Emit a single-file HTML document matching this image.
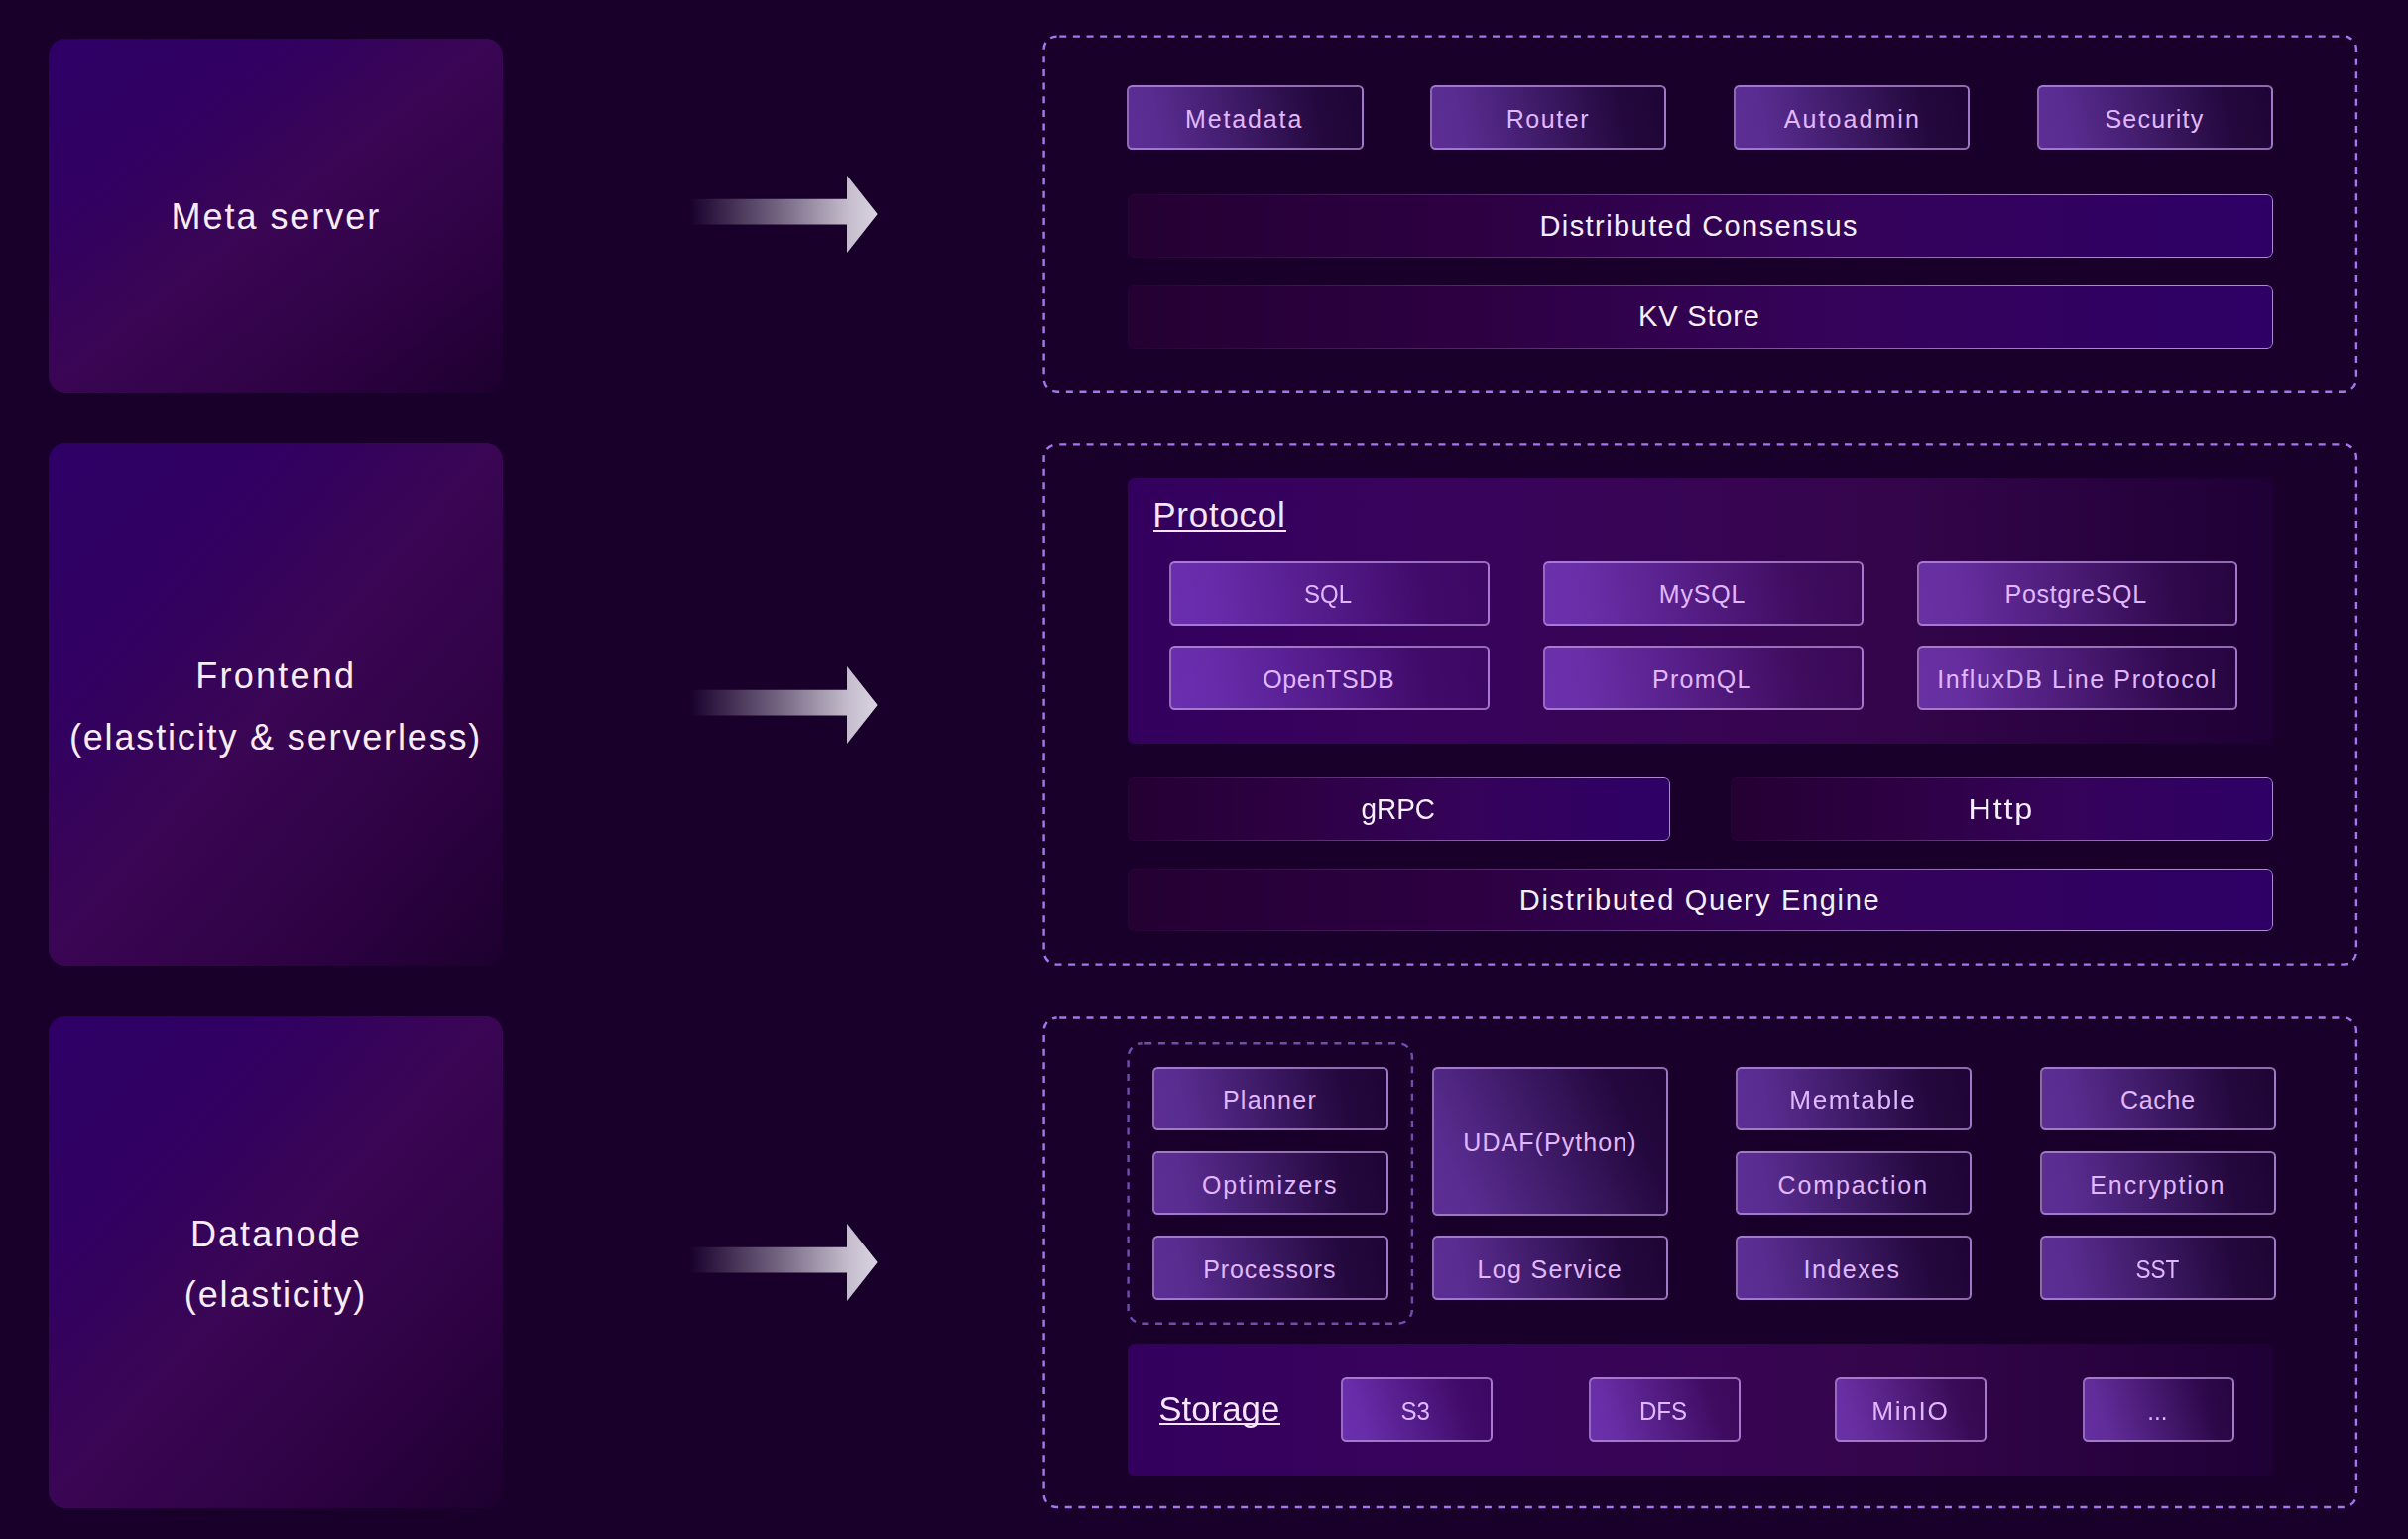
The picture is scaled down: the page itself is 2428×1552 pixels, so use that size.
<!DOCTYPE html>
<html><head><meta charset="utf-8"><title>Architecture</title>
<style>
*{box-sizing:border-box;margin:0;padding:0}
html,body{width:2428px;height:1552px;overflow:hidden;background:#18002b}
body{position:relative;font-family:"Liberation Sans",sans-serif;}
.big{position:absolute;border-radius:17px;background:linear-gradient(to bottom right,#2e0066 0%,#310062 25%,#3a0654 50%,#2f0244 75%,#1d002f 100%);color:#f8ecf9;font-size:36px;white-space:nowrap}
.big>span{position:absolute;left:0;width:100%;text-align:center;line-height:1}
.btn{position:absolute;border:2px solid rgba(200,160,230,.66);border-radius:5.5px;background:linear-gradient(66deg,rgba(160,92,255,.5) 0%,rgba(160,92,255,.07) 100%);display:flex;align-items:center;justify-content:center;color:#e0b8ff;font-size:25px;white-space:nowrap;padding-top:3.4px}
.bar{position:absolute;border-radius:6px;display:flex;align-items:center;justify-content:center;color:#f6eefa;font-size:29px;white-space:nowrap;padding-top:1px}
.bar::before{content:"";position:absolute;inset:0;border-radius:6px;background:linear-gradient(90deg,#250033 0%,#2d0042 30%,#35035a 62%,#2e0066 100%);}
.bar::after{content:"";position:absolute;inset:0;border-radius:6px;border:1.7px solid rgba(196,160,225,.85);-webkit-mask-image:linear-gradient(90deg,rgba(0,0,0,.02) 0%,rgba(0,0,0,.38) 40%,#000 85%);mask-image:linear-gradient(90deg,rgba(0,0,0,.02) 0%,rgba(0,0,0,.38) 40%,#000 85%)}
.bar span{position:relative;z-index:1}
.group{position:absolute;border-radius:7px;background:linear-gradient(90deg,#34005f 0%,#38045a 35%,#35054c 65%,#1f0035 100%)}
.hdr{position:absolute;color:#f6e6fb;font-size:35px;white-space:nowrap;line-height:1}
.hdr u{position:absolute;height:2.4px;background:#f6e6fb}
svg.arrow{position:absolute}
</style></head><body>

<div class="big" style="left:49px;top:39px;width:458px;height:357px"><span style="top:162.4px"><span style="letter-spacing:1.97px;margin-right:-1.97px;position:relative;left:-0.61px;">Meta server</span></span></div>
<div class="big" style="left:49px;top:447px;width:458px;height:527px"><span style="top:217.0px"><span style="letter-spacing:2.26px;margin-right:-2.26px;position:relative;left:-0.84px;">Frontend</span></span><span style="top:278.6px"><span style="letter-spacing:1.85px;margin-right:-1.85px;position:relative;left:-0.86px;">(elasticity &amp; serverless)</span></span></div>
<div class="big" style="left:49px;top:1025px;width:458px;height:496px"><span style="top:201.9px"><span style="letter-spacing:2.1px;margin-right:-2.1px;position:relative;left:-0.69px;">Datanode</span></span><span style="top:262.6px"><span style="letter-spacing:1.86px;margin-right:-1.86px;position:relative;left:-0.96px;">(elasticity)</span></span></div>
<svg class="arrow" style="left:690px;top:170.5px" width="200" height="90" viewBox="0 0 200 90"><defs><linearGradient id="ag1" x1="0" y1="0" x2="1" y2="0"><stop offset="0" stop-color="#d9d3e0" stop-opacity="0"/><stop offset="0.12" stop-color="#d9d3e0" stop-opacity="0.12"/><stop offset="0.5" stop-color="#d9d3e0" stop-opacity="0.5"/><stop offset="0.85" stop-color="#d9d3e0" stop-opacity="0.9"/><stop offset="1" stop-color="#dad4e1" stop-opacity="1"/></linearGradient></defs><path d="M5 29.8 H164 V6.1 L194.7 45 L164 84.1 V55.4 H5 Z" fill="url(#ag1)"/></svg>
<svg class="arrow" style="left:690px;top:665.5px" width="200" height="90" viewBox="0 0 200 90"><defs><linearGradient id="ag2" x1="0" y1="0" x2="1" y2="0"><stop offset="0" stop-color="#d9d3e0" stop-opacity="0"/><stop offset="0.12" stop-color="#d9d3e0" stop-opacity="0.12"/><stop offset="0.5" stop-color="#d9d3e0" stop-opacity="0.5"/><stop offset="0.85" stop-color="#d9d3e0" stop-opacity="0.9"/><stop offset="1" stop-color="#dad4e1" stop-opacity="1"/></linearGradient></defs><path d="M5 29.8 H164 V6.1 L194.7 45 L164 84.1 V55.4 H5 Z" fill="url(#ag2)"/></svg>
<svg class="arrow" style="left:690px;top:1228.4px" width="200" height="90" viewBox="0 0 200 90"><defs><linearGradient id="ag3" x1="0" y1="0" x2="1" y2="0"><stop offset="0" stop-color="#d9d3e0" stop-opacity="0"/><stop offset="0.12" stop-color="#d9d3e0" stop-opacity="0.12"/><stop offset="0.5" stop-color="#d9d3e0" stop-opacity="0.5"/><stop offset="0.85" stop-color="#d9d3e0" stop-opacity="0.9"/><stop offset="1" stop-color="#dad4e1" stop-opacity="1"/></linearGradient></defs><path d="M5 29.8 H164 V6.1 L194.7 45 L164 84.1 V55.4 H5 Z" fill="url(#ag3)"/></svg>
<svg style="position:absolute;left:0;top:0" width="2428" height="1552" viewBox="0 0 2428 1552">
<rect x="1052.6" y="36.6" width="1323.3" height="358.1" rx="13" ry="13" fill="none" stroke="#a776ee" stroke-width="2.4" stroke-dasharray="7 6.65" stroke-dashoffset="11"/>
<rect x="1052.6" y="448.4" width="1323.3" height="524.2" rx="13" ry="13" fill="none" stroke="#a776ee" stroke-width="2.4" stroke-dasharray="7 6.65" stroke-dashoffset="11"/>
<rect x="1052.6" y="1026.5" width="1323.3" height="493.5" rx="13" ry="13" fill="none" stroke="#a776ee" stroke-width="2.4" stroke-dasharray="7 6.65" stroke-dashoffset="11"/>
<rect x="1137.6" y="1052.2" width="286.3" height="282.5" rx="14" ry="14" fill="none" stroke="#6e4fae" stroke-width="2.4" stroke-dasharray="7 6.65" stroke-dashoffset="11"/>
</svg>
<div class="btn" style="left:1136.0px;top:86px;width:238.5px;height:65px;background:linear-gradient(78.4deg,rgba(160,92,255,.5) 0%,rgba(160,92,255,.48) 14%,rgba(160,92,255,.27) 50%,rgba(160,92,255,.09) 80%,rgba(160,92,255,.05) 100%);"><span style="letter-spacing:1.85px;margin-right:-1.85px;position:relative;left:-1.55px;">Metadata</span></div>
<div class="btn" style="left:1441.9px;top:86px;width:238.5px;height:65px;background:linear-gradient(78.4deg,rgba(160,92,255,.5) 0%,rgba(160,92,255,.48) 14%,rgba(160,92,255,.27) 50%,rgba(160,92,255,.09) 80%,rgba(160,92,255,.05) 100%);"><span style="letter-spacing:1.56px;margin-right:-1.56px;position:relative;left:-1.04px;">Router</span></div>
<div class="btn" style="left:1747.8px;top:86px;width:238.5px;height:65px;background:linear-gradient(78.4deg,rgba(160,92,255,.5) 0%,rgba(160,92,255,.48) 14%,rgba(160,92,255,.27) 50%,rgba(160,92,255,.09) 80%,rgba(160,92,255,.05) 100%);"><span style="letter-spacing:2.07px;margin-right:-2.07px;position:relative;left:-0.2px;">Autoadmin</span></div>
<div class="btn" style="left:2053.7px;top:86px;width:238.5px;height:65px;background:linear-gradient(78.4deg,rgba(160,92,255,.5) 0%,rgba(160,92,255,.48) 14%,rgba(160,92,255,.27) 50%,rgba(160,92,255,.09) 80%,rgba(160,92,255,.05) 100%);"><span style="letter-spacing:1.21px;margin-right:-1.21px;position:relative;left:-1.05px;">Security</span></div>
<div class="bar" style="left:1136.5px;top:195.5px;width:1155.5px;height:64px;"><span style="letter-spacing:1.42px;margin-right:-1.42px;position:relative;left:-1.7px;">Distributed Consensus</span></div>
<div class="bar" style="left:1136.5px;top:287px;width:1155.5px;height:64.5px;"><span style="letter-spacing:0.81px;margin-right:-0.81px;position:relative;left:-1.29px;">KV Store</span></div>
<div class="group" style="left:1136.5px;top:481.5px;width:1156px;height:268px"></div>
<div class="hdr" style="left:1162.2px;top:501.4px"><span style="letter-spacing:0.75px;margin-right:-0.75px;">Protocol</span><u style="top:32.8px;left:0.8px;width:133.8px;height:2.1px"></u></div>
<div class="btn" style="left:1178.8px;top:566.0px;width:323px;height:64.6px;background:linear-gradient(81.5deg,rgba(160,92,255,.5) 0%,rgba(160,92,255,.48) 14%,rgba(160,92,255,.27) 50%,rgba(160,92,255,.09) 80%,rgba(160,92,255,.05) 100%);"><span style="display:inline-block;transform:scaleX(0.9589);position:relative;left:-1.0px;">SQL</span></div>
<div class="btn" style="left:1556.0px;top:566.0px;width:323px;height:64.6px;background:linear-gradient(81.5deg,rgba(160,92,255,.5) 0%,rgba(160,92,255,.48) 14%,rgba(160,92,255,.27) 50%,rgba(160,92,255,.09) 80%,rgba(160,92,255,.05) 100%);"><span style="letter-spacing:0.84px;margin-right:-0.84px;position:relative;left:-1.35px;">MySQL</span></div>
<div class="btn" style="left:1933.1999999999998px;top:566.0px;width:323px;height:64.6px;background:linear-gradient(81.5deg,rgba(160,92,255,.5) 0%,rgba(160,92,255,.48) 14%,rgba(160,92,255,.27) 50%,rgba(160,92,255,.09) 80%,rgba(160,92,255,.05) 100%);"><span style="letter-spacing:0.71px;margin-right:-0.71px;position:relative;left:-1.9px;">PostgreSQL</span></div>
<div class="btn" style="left:1178.8px;top:651.2px;width:323px;height:64.6px;background:linear-gradient(81.5deg,rgba(160,92,255,.5) 0%,rgba(160,92,255,.48) 14%,rgba(160,92,255,.27) 50%,rgba(160,92,255,.09) 80%,rgba(160,92,255,.05) 100%);"><span style="letter-spacing:0.66px;margin-right:-0.66px;position:relative;left:-0.86px;">OpenTSDB</span></div>
<div class="btn" style="left:1556.0px;top:651.2px;width:323px;height:64.6px;background:linear-gradient(81.5deg,rgba(160,92,255,.5) 0%,rgba(160,92,255,.48) 14%,rgba(160,92,255,.27) 50%,rgba(160,92,255,.09) 80%,rgba(160,92,255,.05) 100%);"><span style="letter-spacing:1.23px;margin-right:-1.23px;position:relative;left:-1.8px;">PromQL</span></div>
<div class="btn" style="left:1933.1999999999998px;top:651.2px;width:323px;height:64.6px;background:linear-gradient(81.5deg,rgba(160,92,255,.5) 0%,rgba(160,92,255,.48) 14%,rgba(160,92,255,.27) 50%,rgba(160,92,255,.09) 80%,rgba(160,92,255,.05) 100%);"><span style="letter-spacing:1.61px;margin-right:-1.61px;position:relative;left:-0.92px;">InfluxDB Line Protocol</span></div>
<div class="bar" style="left:1136.5px;top:783.7px;width:547.3px;height:64.5px;"><span style="display:inline-block;transform:scaleX(0.964);position:relative;left:-0.83px;">gRPC</span></div>
<div class="bar" style="left:1745px;top:783.7px;width:547px;height:64.5px;"><span style="display:inline-block;letter-spacing:1.6px;margin-right:-1.6px;transform:scaleX(1.1137);position:relative;left:-1.49px;">Http</span></div>
<div class="bar" style="left:1136.5px;top:875.8px;width:1155.5px;height:63.6px;"><span style="letter-spacing:1.69px;margin-right:-1.69px;position:relative;left:-1.04px;">Distributed Query Engine</span></div>
<div class="btn" style="left:1162px;top:1076.1px;width:238px;height:64.3px;background:linear-gradient(78.5deg,rgba(160,92,255,.5) 0%,rgba(160,92,255,.48) 14%,rgba(160,92,255,.27) 50%,rgba(160,92,255,.09) 80%,rgba(160,92,255,.05) 100%);"><span style="letter-spacing:1.29px;margin-right:-1.29px;position:relative;left:-1.14px;">Planner</span></div>
<div class="btn" style="left:1162px;top:1161.2px;width:238px;height:64.3px;background:linear-gradient(78.5deg,rgba(160,92,255,.5) 0%,rgba(160,92,255,.48) 14%,rgba(160,92,255,.27) 50%,rgba(160,92,255,.09) 80%,rgba(160,92,255,.05) 100%);"><span style="letter-spacing:1.76px;margin-right:-1.76px;position:relative;left:-1.25px;">Optimizers</span></div>
<div class="btn" style="left:1162px;top:1246.3px;width:238px;height:64.3px;background:linear-gradient(78.5deg,rgba(160,92,255,.5) 0%,rgba(160,92,255,.48) 14%,rgba(160,92,255,.27) 50%,rgba(160,92,255,.09) 80%,rgba(160,92,255,.05) 100%);"><span style="letter-spacing:0.92px;margin-right:-0.92px;position:relative;left:-1.15px;">Processors</span></div>
<div class="btn" style="left:1444.2px;top:1076.1px;width:238px;height:149.6px;background:linear-gradient(64.8deg,rgba(160,92,255,.5) 0%,rgba(160,92,255,.48) 14%,rgba(160,92,255,.27) 50%,rgba(160,92,255,.09) 80%,rgba(160,92,255,.05) 100%);"><span style="letter-spacing:1.06px;margin-right:-1.06px;position:relative;left:-0.79px;">UDAF(Python)</span></div>
<div class="btn" style="left:1444.2px;top:1246.3px;width:238px;height:64.3px;background:linear-gradient(78.5deg,rgba(160,92,255,.5) 0%,rgba(160,92,255,.48) 14%,rgba(160,92,255,.27) 50%,rgba(160,92,255,.09) 80%,rgba(160,92,255,.05) 100%);"><span style="letter-spacing:1.31px;margin-right:-1.31px;position:relative;left:-1.05px;">Log Service</span></div>
<div class="btn" style="left:1749.7px;top:1076.1px;width:238.3px;height:64.3px;background:linear-gradient(78.6deg,rgba(160,92,255,.5) 0%,rgba(160,92,255,.48) 14%,rgba(160,92,255,.27) 50%,rgba(160,92,255,.09) 80%,rgba(160,92,255,.05) 100%);"><span style="display:inline-block;letter-spacing:1.6px;margin-right:-1.6px;transform:scaleX(1.0461);position:relative;left:-0.95px;">Memtable</span></div>
<div class="btn" style="left:1749.7px;top:1161.2px;width:238.3px;height:64.3px;background:linear-gradient(78.6deg,rgba(160,92,255,.5) 0%,rgba(160,92,255,.48) 14%,rgba(160,92,255,.27) 50%,rgba(160,92,255,.09) 80%,rgba(160,92,255,.05) 100%);"><span style="letter-spacing:1.9px;margin-right:-1.9px;position:relative;left:-1.0px;">Compaction</span></div>
<div class="btn" style="left:1749.7px;top:1246.3px;width:238.3px;height:64.3px;background:linear-gradient(78.6deg,rgba(160,92,255,.5) 0%,rgba(160,92,255,.48) 14%,rgba(160,92,255,.27) 50%,rgba(160,92,255,.09) 80%,rgba(160,92,255,.05) 100%);"><span style="letter-spacing:1.47px;margin-right:-1.47px;position:relative;left:-2.05px;">Indexes</span></div>
<div class="btn" style="left:2057.3px;top:1076.1px;width:238px;height:64.3px;background:linear-gradient(78.5deg,rgba(160,92,255,.5) 0%,rgba(160,92,255,.48) 14%,rgba(160,92,255,.27) 50%,rgba(160,92,255,.09) 80%,rgba(160,92,255,.05) 100%);"><span style="letter-spacing:0.71px;margin-right:-0.71px;position:relative;left:-0.75px;">Cache</span></div>
<div class="btn" style="left:2057.3px;top:1161.2px;width:238px;height:64.3px;background:linear-gradient(78.5deg,rgba(160,92,255,.5) 0%,rgba(160,92,255,.48) 14%,rgba(160,92,255,.27) 50%,rgba(160,92,255,.09) 80%,rgba(160,92,255,.05) 100%);"><span style="letter-spacing:1.9px;margin-right:-1.9px;position:relative;left:-1.4px;">Encryption</span></div>
<div class="btn" style="left:2057.3px;top:1246.3px;width:238px;height:64.3px;background:linear-gradient(78.5deg,rgba(160,92,255,.5) 0%,rgba(160,92,255,.48) 14%,rgba(160,92,255,.27) 50%,rgba(160,92,255,.09) 80%,rgba(160,92,255,.05) 100%);"><span style="display:inline-block;transform:scaleX(0.9018);position:relative;left:-0.91px;">SST</span></div>
<div class="group" style="left:1136.5px;top:1355px;width:1156px;height:132.5px"></div>
<div class="hdr" style="left:1168.2px;top:1403.0px"><span style="display:inline-block;transform:scaleX(0.9957);">Storage</span><u style="top:31.9px;left:0.7px;width:122px"></u></div>
<div class="btn" style="left:1352.4px;top:1389.1px;width:153px;height:64.5px;background:linear-gradient(72.5deg,rgba(160,92,255,.5) 0%,rgba(160,92,255,.48) 14%,rgba(160,92,255,.27) 50%,rgba(160,92,255,.09) 80%,rgba(160,92,255,.05) 100%);"><span style="display:inline-block;transform:scaleX(0.9625);position:relative;left:-1.45px;">S3</span></div>
<div class="btn" style="left:1601.8px;top:1389.1px;width:153px;height:64.5px;background:linear-gradient(72.5deg,rgba(160,92,255,.5) 0%,rgba(160,92,255,.48) 14%,rgba(160,92,255,.27) 50%,rgba(160,92,255,.09) 80%,rgba(160,92,255,.05) 100%);"><span style="display:inline-block;transform:scaleX(0.9635);position:relative;left:-1.16px;">DFS</span></div>
<div class="btn" style="left:1850px;top:1389.1px;width:153px;height:64.5px;background:linear-gradient(72.5deg,rgba(160,92,255,.5) 0%,rgba(160,92,255,.48) 14%,rgba(160,92,255,.27) 50%,rgba(160,92,255,.09) 80%,rgba(160,92,255,.05) 100%);"><span style="display:inline-block;letter-spacing:1.6px;margin-right:-1.6px;transform:scaleX(1.0491);position:relative;left:-1.23px;">MinIO</span></div>
<div class="btn" style="left:2100.2px;top:1389.1px;width:153px;height:64.5px;background:linear-gradient(72.5deg,rgba(160,92,255,.5) 0%,rgba(160,92,255,.48) 14%,rgba(160,92,255,.27) 50%,rgba(160,92,255,.09) 80%,rgba(160,92,255,.05) 100%);"><span style="display:inline-block;transform:scaleX(0.9709);position:relative;left:-1.23px;">...</span></div>
</body></html>
